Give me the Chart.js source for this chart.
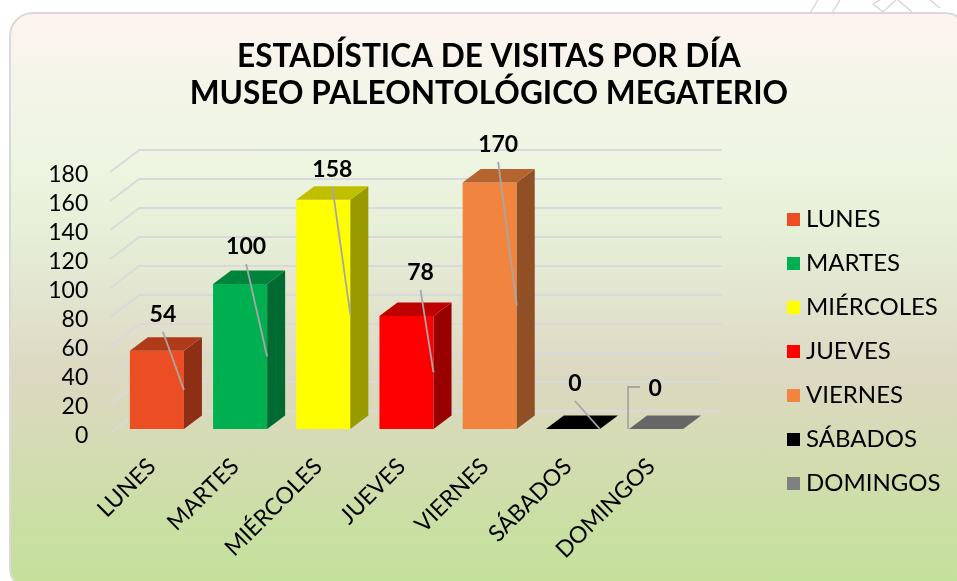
<!DOCTYPE html>
<html><head><meta charset="utf-8">
<style>
html,body{margin:0;padding:0;background:#fff;width:957px;height:581px;overflow:hidden}
#panel{position:absolute;left:9px;top:12px;width:960px;height:580px;box-sizing:border-box;border:2px solid #d9d9d9;border-radius:24px;
background:linear-gradient(180deg,#fef3f0 0%,#f4f5e9 12%,#eef5e1 25%,#e6efd8 38%,#dfddc8 57%,#dcd8c1 63%,#d3dcb0 78%,#cadfa4 88%,#c3e199 100%)}
#deco{position:absolute;left:0;top:0}
#wrap{position:absolute;left:0;top:0;width:957px;height:581px}
</style>
<script src="https://cdn.jsdelivr.net/npm/chart.js@4"></script>
</head><body>
<svg id="deco" width="957" height="14" fill="none" stroke="#d4d4d4" stroke-width="1.3">
<path d="M810 13L818 0M832 13L840 0M880 0L873 4L883 12L896 0M898 0L912 12M930 0L940 8"/>
</svg>
<div id="panel"></div>
<div id="wrap"><canvas id="c" width="957" height="581"></canvas></div>
<script>
const categories = ['LUNES','MARTES','MIÉRCOLES','JUEVES','VIERNES','SÁBADOS','DOMINGOS'];
const visits = [54,100,158,78,170,0,0];
const barColors = ['#EB4E23','#00B050','#FFFF00','#FF0000','#F1843F','#000000','#808080'];
const yTicks = [0,20,40,60,80,100,120,140,160,180];
const titleLines = ['ESTADÍSTICA DE VISITAS POR DÍA','MUSEO PALEONTOLÓGICO MEGATERIO'];
const labelDx = [6,6,9,14,8.5,2,-1];
const labelDy = [-36,-37,-30,-43,-37.5,-45,-40];
const FONT = 'Lato, "Open Sans", sans-serif';
const DEPTH_X = 18, DEPTH_Y = 13.5, LIFT = 4;

function shade(hex,f){
  const n=parseInt(hex.slice(1),16);
  return `rgb(${Math.round((n>>16&255)*f)},${Math.round((n>>8&255)*f)},${Math.round((n&255)*f)})`;
}
function poly(ctx,pts,fill){
  ctx.beginPath();pts.forEach((p,i)=>i?ctx.lineTo(p[0],p[1]):ctx.moveTo(p[0],p[1]));ctx.closePath();
  ctx.fillStyle=fill;ctx.fill();
}
const walls = {
  id:'walls',
  beforeLayout(chart){
    const lg=chart.legend;
    if(lg&&!lg._wrapped){
      const fit=lg.fit;
      lg.fit=function(){fit.call(this);this.width=200;};
      lg._wrapped=true;
    }
  },
  afterLayout(chart){
    chart.titleBlock.left+=40;chart.titleBlock.right+=40;
    const lg=chart.legend;
    lg.left=773;lg.right=960;lg.top+=42;lg.bottom+=42;
  },
  beforeDatasetsDraw(chart){
    const {ctx,scales:{y},chartArea:a}=chart;
    ctx.save();
    ctx.strokeStyle='#d9d9d9';ctx.lineWidth=2;
    const frontX=a.left-5, backX=a.left+24, right=a.right+24;
    yTicks.forEach(v=>{
      const p=y.getPixelForValue(v), q=p-22;
      ctx.beginPath();ctx.moveTo(frontX,p);ctx.lineTo(backX,q);ctx.lineTo(right,q);ctx.stroke();
    });
    ctx.restore();
    ctx.save();
    ctx.translate(0,-LIFT);
  },
  afterDatasetsDraw(chart){
    const {ctx}=chart, meta=chart.getDatasetMeta(0);
    meta.data.forEach((b,i)=>{
      const {x,y,base,width}=b.getProps(['x','y','base','width'],true);
      const L=x-width/2,R=x+width/2,c=barColors[i];
      const sideF=c==='#000000'?1:.6, topF=c==='#808080'?.8:.75;
      if(base-y>0) poly(ctx,[[R,y],[R+DEPTH_X,y-DEPTH_Y],[R+DEPTH_X,base-DEPTH_Y],[R,base]],shade(c,sideF));
      poly(ctx,[[L,y],[L+DEPTH_X,y-DEPTH_Y],[R+DEPTH_X,y-DEPTH_Y],[R,y]],shade(c,topF));
    });
    meta.data.forEach((b,i)=>{
      const {x,y,base,width}=b.getProps(['x','y','base','width'],true);
      const R=x+width/2, lx=x+labelDx[i], ly=y+labelDy[i], mid=(y+base)/2;
      ctx.strokeStyle='#a6a6a6';ctx.lineWidth=1.8;ctx.beginPath();
      if(i===6){
        ctx.moveTo(lx-15,ly-2);ctx.lineTo(x-width/2-1,ly-2);ctx.lineTo(x-width/2-1,base);
      }else{
        ctx.moveTo(lx,ly+17);ctx.lineTo(R,mid);
      }
      ctx.stroke();
      ctx.fillStyle='#000';ctx.font='bold 23px '+FONT;ctx.textAlign='center';ctx.textBaseline='middle';
      ctx.fillText(String(visits[i]),lx,ly);
    });
    ctx.restore();
  }
};
new Chart(document.getElementById('c'),{
  type:'bar',
  data:{labels:categories,datasets:[{data:visits,backgroundColor:barColors,borderWidth:0,barPercentage:.65,categoryPercentage:1}]},
  plugins:[walls],
  options:{
    responsive:false,animation:false,
    layout:{padding:{left:0,right:59.3,top:38,bottom:0}},
    scales:{
      x:{grid:{display:false},border:{display:false},
        ticks:{color:'#000',font:{family:FONT,size:23},minRotation:45,maxRotation:45,padding:12,labelOffset:-5,autoSkip:false},
        afterFit(s){s.height=148}},
      y:{min:0,max:180,grid:{display:false,drawTicks:false},border:{display:false},
        afterBuildTicks(s){s.ticks=yTicks.map(v=>({value:v}))},
        ticks:{color:'#000',font:{family:FONT,size:23},padding:27,labelOffset:3,autoSkip:false},
        afterFit(s){s.width=115.3}}
    },
    plugins:{
      title:{display:true,text:titleLines,color:'#000',font:{family:FONT,size:31.6,weight:'bold',lineHeight:1.17},padding:{top:0,bottom:60}},
      tooltip:{enabled:false},
      legend:{position:'right',labels:{
        color:'#000',font:{family:FONT,size:24},boxWidth:1,boxHeight:1,padding:20,
        generateLabels(){return categories.map((t,i)=>({text:t,fillStyle:barColors[i],strokeStyle:barColors[i],lineWidth:12,index:i}))}
      }}
    }
  }
});
</script>
</body></html>
